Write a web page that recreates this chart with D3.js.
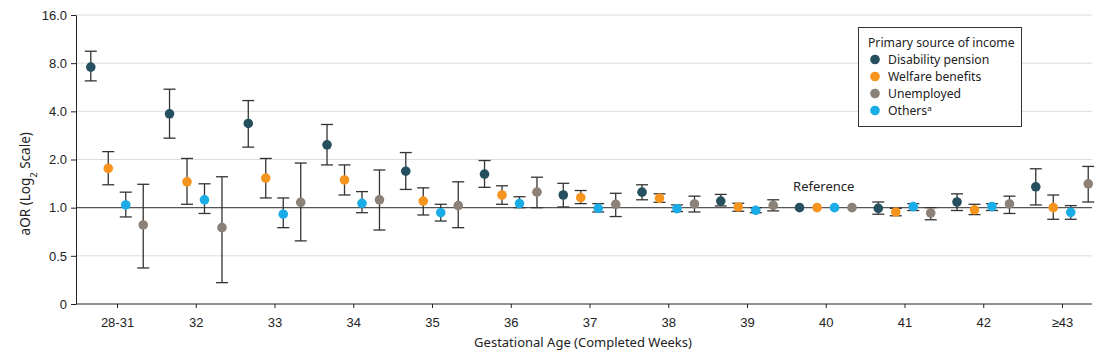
<!DOCTYPE html>
<html>
<head>
<meta charset="utf-8">
<script src="https://cdn.jsdelivr.net/npm/d3@7"></script>
<style>
  body { margin: 0; background: #fff; }
  svg { font-family: "Noto Sans", "Open Sans", sans-serif; }
  .grid line { stroke: #dcdcdc; stroke-width: 1; }
  .axis text { font-size: 13px; fill: #222; }
  .axis path, .axis line { stroke: #222; }
  .err { stroke: #333; stroke-width: 1.3; fill: none; }
</style>
</head>
<body>
<div class="container"></div>
<script>
var weeks = ["28-31","32","33","34","35","36","37","38","39","40","41","42","\u226543"];
var seriesNames = ["Disability pension","Welfare benefits","Unemployed","Others\u1d43"];
var seriesColors = ["#26505f","#f7941d","#8b8178","#1aace6"];
// order of the points inside each week group: disability, welfare, others, unemployed
var plotOrder = [0, 1, 3, 2];
var yTicks = [0.25, 0.5, 1, 2, 4, 8, 16];
var yTickLabels = ["0","0.5","1.0","2.0","4.0","8.0","16.0"];

// aOR estimates, lower and upper CI, per series, per week (40 = reference)
var disabilityOR = [7.56,3.86,3.36,2.47,1.69,1.62,1.20,1.25,1.10,1,0.99,1.085,1.35];
var disabilityLo = [6.2,2.72,2.39,1.85,1.30,1.34,1.01,1.12,1.025,null,0.91,0.96,1.04];
var disabilityHi = [9.5,5.5,4.67,3.31,2.21,1.97,1.42,1.39,1.21,null,1.085,1.22,1.75];

var welfareOR = [1.76,1.45,1.53,1.49,1.10,1.20,1.155,1.145,1.01,1,0.94,0.97,1.0];
var welfareLo = [1.39,1.05,1.15,1.20,0.90,1.05,1.06,1.08,0.95,null,0.89,0.905,0.846];
var welfareHi = [2.24,2.03,2.03,1.85,1.33,1.37,1.28,1.22,1.065,null,0.99,1.05,1.20];

var unemployedOR = [0.78,0.75,1.08,1.12,1.03,1.25,1.05,1.055,1.035,1,0.926,1.055,1.41];
var unemployedLo = [0.42,0.34,0.62,0.725,0.75,1.0,0.88,0.94,0.955,null,0.84,0.92,1.085];
var unemployedHi = [1.40,1.56,1.90,1.72,1.45,1.55,1.23,1.18,1.12,null,1.0,1.18,1.81];

var othersOR = [1.04,1.12,0.91,1.065,0.93,1.06,0.99,0.985,0.963,1,1.015,1.015,0.935];
var othersLo = [0.875,0.92,0.75,0.93,0.825,1.0,0.94,0.945,0.93,null,0.96,0.96,0.846];
var othersHi = [1.25,1.41,1.15,1.26,1.05,1.17,1.06,1.04,1.0,null,1.06,1.06,1.03];

const WIDTH = 1110;
const HEIGHT = 354;
const LEFT = 76, RIGHT = 1092, TOP = 15, BOTTOM = 304;

var est = [disabilityOR, welfareOR, unemployedOR, othersOR];
var lo = [disabilityLo, welfareLo, unemployedLo, othersLo];
var hi = [disabilityHi, welfareHi, unemployedHi, othersHi];

var points = [];
weeks.forEach(function(w, i){
  plotOrder.forEach(function(s, k){
    points.push({week: w, slot: k, series: s, v: est[s][i], lo: lo[s][i], hi: hi[s][i]});
  });
});

var svg = d3.select('.container').append('svg')
  .attr('width', WIDTH)
  .attr('height', HEIGHT);

var xScale = d3.scalePoint()
  .domain(weeks)
  .range([117, 1062]);

var step = xScale.step();
var offset = d3.scaleLinear().domain([0, 3]).range([-0.333 * step, 0.333 * step]);

var yScale = d3.scaleLog().base(2)
  .domain([0.25, 16])
  .range([BOTTOM, TOP]);

// gridlines
svg.append('g').classed('grid', true)
  .selectAll('line').data(yTicks.filter(function(t){ return t > 0.25 && t != 1; }))
  .enter().append('line')
  .attr('x1', LEFT).attr('x2', RIGHT)
  .attr('y1', function(d){ return yScale(d); })
  .attr('y2', function(d){ return yScale(d); });

// reference line at 1.0
svg.append('line')
  .attr('x1', LEFT).attr('x2', RIGHT)
  .attr('y1', yScale(1)).attr('y2', yScale(1))
  .attr('stroke', '#555').attr('stroke-width', 1.3);

var yAxis = d3.axisLeft(yScale)
  .tickValues(yTicks)
  .tickFormat(function(d, i){ return yTickLabels[i]; })
  .tickSize(5).tickSizeOuter(0);

svg.append('g').classed('axis', true)
  .attr('transform', 'translate(' + LEFT + ',0)')
  .call(yAxis)
  .call(function(g){ g.selectAll('text').attr('dx', '-1'); });

var xAxis = d3.axisBottom(xScale).tickSize(4).tickSizeOuter(0);

var xg = svg.append('g').classed('axis', true)
  .attr('transform', 'translate(0,' + BOTTOM + ')')
  .call(xAxis);
xg.select('.domain').attr('d', 'M' + LEFT + ',0H' + RIGHT);
xg.selectAll('text').attr('dy', '1.2em');

// axis titles
svg.append('text')
  .attr('x', LEFT + (RIGHT - LEFT) / 2 - 1)
  .attr('y', 347)
  .attr('text-anchor', 'middle')
  .style('font-size', '13px').style('fill', '#222')
  .text('Gestational Age (Completed Weeks)');

var yt = svg.append('text')
  .attr('transform', 'translate(30,' + yScale(1.41) + ') rotate(-90)')
  .attr('text-anchor', 'middle')
  .style('font-size', '13.5px').style('fill', '#222');
yt.append('tspan').text('aOR (Log');
yt.append('tspan').attr('baseline-shift', 'sub').style('font-size', '9.5px').text('2');
yt.append('tspan').text(' Scale)');

// error bars
var bars = svg.append('g').selectAll('g.err')
  .data(points.filter(function(d){ return d.lo != null; }))
  .enter().append('g').classed('err', true)
  .attr('transform', function(d){ return 'translate(' + (xScale(d.week) + offset(d.slot)) + ',0)'; });

bars.append('line')
  .attr('x1', 0).attr('x2', 0)
  .attr('y1', function(d){ return yScale(d.lo); })
  .attr('y2', function(d){ return yScale(d.hi); });
bars.append('line')
  .attr('x1', -6).attr('x2', 6)
  .attr('y1', function(d){ return yScale(d.lo); })
  .attr('y2', function(d){ return yScale(d.lo); });
bars.append('line')
  .attr('x1', -6).attr('x2', 6)
  .attr('y1', function(d){ return yScale(d.hi); })
  .attr('y2', function(d){ return yScale(d.hi); });

// points
svg.append('g').selectAll('circle').data(points)
  .enter().append('circle')
  .attr('cx', function(d){ return xScale(d.week) + offset(d.slot); })
  .attr('cy', function(d){ return yScale(d.v); })
  .attr('r', 4.8)
  .attr('fill', function(d){ return seriesColors[d.series]; });

svg.append('text')
  .attr('x', xScale('40') - 2)
  .attr('y', 191)
  .attr('text-anchor', 'middle')
  .style('font-size', '13px').style('fill', '#222')
  .text('Reference');

// legend
var legend = svg.append('g').attr('transform', 'translate(858,27)');
legend.append('rect')
  .attr('x', 0.5).attr('y', 0.5)
  .attr('width', 163).attr('height', 99)
  .attr('fill', '#fff').attr('stroke', '#333').attr('stroke-width', 1);
legend.append('text')
  .attr('x', 10).attr('y', 20)
  .style('font-size', '12.2px').style('fill', '#222')
  .text('Primary source of income');
var items = legend.selectAll('g.item').data(seriesNames)
  .enter().append('g').classed('item', true)
  .attr('transform', function(d, i){ return 'translate(17,' + (32.5 + i * 17) + ')'; });
items.append('circle').attr('r', 4.8)
  .attr('fill', function(d, i){ return seriesColors[i]; });
items.append('text')
  .attr('x', 13).attr('dy', '0.35em')
  .style('font-size', '12.2px').style('fill', '#222')
  .text(function(d){ return d; });
</script>
</body>
</html>
